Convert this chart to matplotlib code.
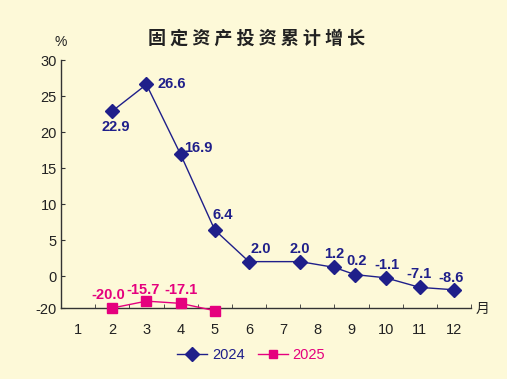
import matplotlib.pyplot as plt
import numpy as np
from matplotlib.lines import Line2D

# data (cumulative growth, %)
months_2024 = [2, 3, 4, 5, 6, 7.5, 8.5, 9.1, 10, 11, 12]
growth_2024 = [22.9, 26.6, 16.9, 6.4, 2.0, 2.0, 1.2, 0.2, -1.1, -7.1, -8.6]
months_2025 = [2, 3, 4, 5]
growth_2025 = [-20.0, -15.7, -17.1, -21.7]
month_labels = [str(m) for m in range(1, 13)]
y_ticks = [-20, 0, 5, 10, 15, 20, 25, 30]
title = "固定资产投资累计增长"

# label offsets in pixels (dx, dy) and alignment
offs_2024 = [(3, -16, 'center'), (11, 0, 'left'), (4, 6, 'left'), (8, 15, 'center'),
             (12, 13, 'center'), (0, 13, 'center'), (0, 13, 'center'), (2, 14, 'center'),
             (1, 13, 'center'), (-1, 13, 'center'), (-3, 12, 'center')]
offs_2025 = [(-4, 13), (-3, 11), (0, 13), (0, 15)]

c24 = '#1f1f8a'
c25 = '#e5007e'
bg = '#fdf9d8'
cjk = ['Noto Sans CJK SC', 'DejaVu Sans']

plt.rcParams['font.family'] = ['Liberation Sans', 'DejaVu Sans']

# negative part of the axis is compressed (0 .. -20 takes less room)
k = 0.222
def fwd(v):
    v = np.asarray(v, dtype=float)
    return np.where(v >= 0, v, v * k)
def inv(d):
    d = np.asarray(d, dtype=float)
    return np.where(d >= 0, d, d / k)

fig = plt.figure(figsize=(5.07, 3.79), dpi=100, facecolor=bg)
ax = fig.add_axes([61 / 507, 1 - 308 / 379, (471 - 61) / 507, (308 - 60) / 379])
ax.set_facecolor(bg)
ax.set_yscale('function', functions=(fwd, inv))
ax.set_ylim(-20, 30)
ax.set_xlim(0.5, 12.5)

ax.plot(months_2024, growth_2024, color=c24, lw=1, marker='D', ms=7.5,
        clip_on=False, zorder=3)
ax.plot(months_2025, growth_2025, color=c25, lw=1, marker='s', ms=6.5,
        clip_on=False, zorder=3)

for x, y, (dx, dy, ha) in zip(months_2024, growth_2024, offs_2024):
    ax.annotate(f"{y:.1f}", (x, y), xytext=(dx, dy), textcoords='offset pixels',
                ha=ha, va='center', color=c24, fontsize=10.5, fontweight='bold')
for x, y, (dx, dy) in zip(months_2025, growth_2025, offs_2025):
    ax.annotate(f"{y:.1f}", (x, y), xytext=(dx, dy), textcoords='offset pixels',
                ha='center', va='center', color=c25, fontsize=10.5, fontweight='bold')

for s in ['top', 'right']:
    ax.spines[s].set_visible(False)
for s in ['left', 'bottom']:
    ax.spines[s].set_color('#333333')
    ax.spines[s].set_linewidth(1)

ax.set_yticks(y_ticks)
ax.set_yticklabels([str(t) for t in y_ticks])
ax.yaxis.set_minor_locator(plt.NullLocator())
ax.tick_params(axis='y', direction='in', length=3, pad=3, labelsize=10.5,
               color='#333333', labelcolor='#222222')

ax.set_xticks(range(1, 13))
ax.set_xticklabels(month_labels)
ax.set_xticks(np.arange(1.5, 13, 1), minor=True)
ax.tick_params(axis='x', which='major', length=0, pad=11, labelsize=10.5,
               labelcolor='#222222')
ax.tick_params(axis='x', which='minor', direction='in', length=3, color='#333333')

fig.text(257 / 507, 1 - 38 / 379, " ".join(title), ha='center', va='center',
         fontsize=13, fontweight='bold', family=cjk, color='#222222')
fig.text(61 / 507, 1 - 42 / 379, '%', ha='center', va='center', fontsize=10,
         color='#222222')
fig.text(483 / 507, 1 - 309 / 379, '月', ha='center', va='center', fontsize=10,
         family=cjk, color='#222222')

handles = [Line2D([], [], color=c24, lw=1, marker='D', ms=7),
           Line2D([], [], color=c25, lw=1, marker='s', ms=6)]
leg = fig.legend(handles, ['2024', '2025'], loc='center', ncol=2,
                 bbox_to_anchor=(251 / 507, 1 - 355 / 379), frameon=False,
                 fontsize=10.5, handlelength=2.1, handletextpad=0.3,
                 columnspacing=0.9)
for t, c in zip(leg.get_texts(), [c24, c25]):
    t.set_color(c)

fig.savefig('out.png', dpi=100, facecolor=bg)
